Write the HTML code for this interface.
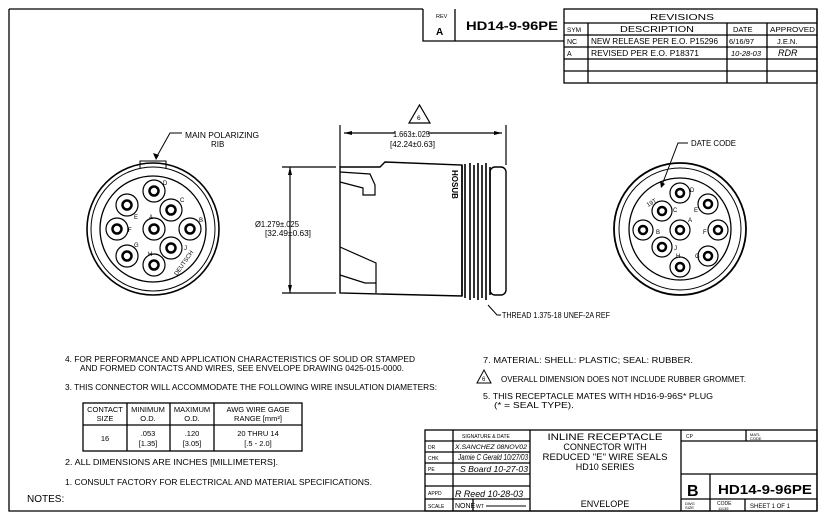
<!DOCTYPE html>
<html><head><meta charset="utf-8"><style>
html,body{margin:0;padding:0;background:#fff;}
svg{display:block}
text{font-family:"Liberation Sans",sans-serif;fill:#000;}
.m{font-size:8px;}
</style></head><body>
<svg width="822" height="523" viewBox="0 0 822 523" xmlns="http://www.w3.org/2000/svg">
<g fill="none" stroke="#000" stroke-width="1.3">
<path d="M9,9 H423 M9,9 V511 H817 V9"/>
<path d="M423,9 V41 H564 M455,9 V41"/>
<rect x="564" y="9" width="253" height="74"/>
<path d="M564,23 H817 M564,35 H817 M564,47 H817 M564,59 H817 M564,71 H817 M588,23 V83 M727,23 V83 M767,23 V83"/>
<rect x="425" y="430" width="392" height="81"/>
<path d="M425,441 H530 M425,452 H530 M425,463 H530 M425,474 H530 M425,486 H530 M425,499 H530 M453,430 V511 M530,430 V511 M681,430 V511 M681,441 H817 M746,430 V441 M681,474 H817 M681,499 H817 M710,474 V511 M745,499 V511 M473,499 V511"/>
<rect x="83" y="403" width="219" height="48"/>
<path d="M83,425 H302 M127,403 V451 M170,403 V451 M214,403 V451"/>
</g>
<text x="436" y="18" font-size="5.5">REV</text>
<text x="436" y="35" font-size="10" font-weight="bold">A</text>
<text x="466" y="30" font-size="12" font-weight="bold" textLength="92" lengthAdjust="spacingAndGlyphs">HD14-9-96PE</text>
<g class="m">
<text x="650" y="20" textLength="64" lengthAdjust="spacingAndGlyphs">REVISIONS</text>
<text x="567" y="32" font-size="6.5">SYM</text>
<text x="620" y="32" textLength="74" lengthAdjust="spacingAndGlyphs">DESCRIPTION</text>
<text x="733" y="32" font-size="7.5">DATE</text>
<text x="770" y="32" font-size="7.5" textLength="45" lengthAdjust="spacingAndGlyphs">APPROVED</text>
<text x="567" y="44" font-size="7">NC</text>
<text x="591" y="44" textLength="127" lengthAdjust="spacingAndGlyphs">NEW RELEASE PER E.O. P15296</text>
<text x="729" y="44" font-size="7.5">6/16/97</text>
<text x="777" y="44" font-size="7.5">J.E.N.</text>
<text x="567" y="56" font-size="7">A</text>
<text x="591" y="56" textLength="108" lengthAdjust="spacingAndGlyphs">REVISED PER E.O. P18371</text>
<text x="731" y="56" font-size="7.5" font-style="italic">10-28-03</text>
<text x="778" y="56" font-size="9" font-style="italic">RDR</text>
</g>
<g fill="none" stroke="#000">
<circle cx="153" cy="229" r="66" stroke-width="1.6"/>
<circle cx="153" cy="229" r="62" stroke-width="1"/>
<circle cx="153" cy="229" r="53" stroke-width="1.3"/>
<path d="M140,169 L140,161 H166 V169" stroke-width="1"/>
<path d="M182,133 H170 L156,158" stroke-width="1"/>
</g>
<path d="M156,160 L153,153 L159,155 Z"/>
<g fill="none" stroke="#000" stroke-width="1.2">
<circle cx="154" cy="191" r="11"/><circle cx="171" cy="210" r="11"/><circle cx="190" cy="229" r="11"/>
<circle cx="171" cy="248" r="11"/><circle cx="154" cy="265" r="11"/><circle cx="127" cy="256" r="11"/>
<circle cx="117" cy="229" r="11"/><circle cx="127" cy="205" r="11"/><circle cx="154" cy="229" r="11"/>
</g>
<g fill="none" stroke="#000" stroke-width="2.5">
<circle cx="154" cy="191" r="4.5"/><circle cx="171" cy="210" r="4.5"/><circle cx="190" cy="229" r="4.5"/>
<circle cx="171" cy="248" r="4.5"/><circle cx="154" cy="265" r="4.5"/><circle cx="127" cy="256" r="4.5"/>
<circle cx="117" cy="229" r="4.5"/><circle cx="127" cy="205" r="4.5"/><circle cx="154" cy="229" r="4.5"/>
</g>
<g font-size="6">
<text x="163" y="185">D</text><text x="180" y="202">C</text><text x="199" y="222">B</text>
<text x="184" y="250">J</text><text x="148" y="256">H</text><text x="134" y="247">G</text>
<text x="128" y="232">F</text><text x="134" y="219">E</text><text x="149" y="219">A</text>
<text x="177" y="276" transform="rotate(-55 177 276)">DEUTSCH</text>
<text x="185" y="138" class="m" textLength="74" lengthAdjust="spacingAndGlyphs">MAIN POLARIZING</text>
<text x="211" y="147" class="m">RIB</text>
</g>
<g fill="none" stroke="#000" stroke-width="1.2">
<path d="M340,125 V167 M506,125 V165"/>
<path d="M344,133 H395 M428,133 H502"/>
<path d="M290,167 V293 M282,167 H336 M282,293 H336"/>
<path d="M340,167 H380 L385,162 L462,165 V296 L340,293 Z" stroke-width="1.4"/>
<path d="M340,172 L370,174 L375,185 V195 H363 V188 L340,182"/>
<path d="M340,247 L376,263 V293 M340,275 L365,283 H376"/>
<rect x="490" y="167" width="16" height="128" rx="5" stroke-width="1.4"/>
<path d="M462,165 V296 M465,164 V298 M470,163 V300 M474,165 V298 M478,163 V300 M482,165 V298 M486,163 V300 M490,167 V295" stroke-width="1.6"/>
<path d="M488,305 L497,315 H501" stroke-width="1"/>
</g>
<path d="M344,133 L352,131 V135 Z M502,133 L494,131 V135 Z M290,167 L288,175 H292 Z M290,293 L288,285 H292 Z"/>
<path d="M409,123 L419.5,105 L430,123 Z" fill="none" stroke="#000" stroke-width="1.2"/>
<text x="417" y="120" font-size="6.5">6</text>
<text x="452" y="170" font-size="8" font-weight="bold" transform="rotate(90 452 170)">HOSUB</text>
<g class="m">
<text x="393" y="137" textLength="37" lengthAdjust="spacingAndGlyphs">1.663±.025</text>
<text x="390" y="147" textLength="45" lengthAdjust="spacingAndGlyphs">[42.24±0.63]</text>
<text x="255" y="227" textLength="44" lengthAdjust="spacingAndGlyphs">Ø1.279±.025</text>
<text x="265" y="236" textLength="46" lengthAdjust="spacingAndGlyphs">[32.49±0.63]</text>
<text x="502" y="318" textLength="108" lengthAdjust="spacingAndGlyphs">THREAD 1.375-18 UNEF-2A REF</text>
<text x="691" y="146" textLength="45" lengthAdjust="spacingAndGlyphs">DATE CODE</text>
</g>
<g fill="none" stroke="#000">
<circle cx="680" cy="229" r="66" stroke-width="1.8"/>
<circle cx="680" cy="229" r="61" stroke-width="1"/>
<circle cx="680" cy="229" r="51" stroke-width="1.3"/>
<path d="M688,143 H678 L662,185" stroke-width="1"/>
<g stroke-width="1.2">
<circle cx="680" cy="193" r="10"/><circle cx="708" cy="204" r="10"/><circle cx="718" cy="230" r="10"/>
<circle cx="708" cy="256" r="10"/><circle cx="680" cy="267" r="10"/><circle cx="662" cy="247" r="10"/>
<circle cx="643" cy="230" r="10"/><circle cx="662" cy="211" r="10"/><circle cx="680" cy="230" r="10"/>
</g>
<g stroke-width="2.5">
<circle cx="680" cy="193" r="4"/><circle cx="708" cy="204" r="4"/><circle cx="718" cy="230" r="4"/>
<circle cx="708" cy="256" r="4"/><circle cx="680" cy="267" r="4"/><circle cx="662" cy="247" r="4"/>
<circle cx="643" cy="230" r="4"/><circle cx="662" cy="211" r="4"/><circle cx="680" cy="230" r="4"/>
</g>
</g>
<path d="M661,188 L660,181 L665,184 Z"/>
<g font-size="6">
<text x="690" y="192">D</text><text x="694" y="212">E</text><text x="703" y="234">F</text>
<text x="695" y="258">G</text><text x="676" y="258">H</text><text x="674" y="250">J</text>
<text x="656" y="234">B</text><text x="673" y="212">C</text><text x="688" y="222">A</text>
<text x="648" y="207" transform="rotate(-30 648 207)">19T</text>
</g>
<g class="m">
<text x="65" y="362" textLength="350" lengthAdjust="spacingAndGlyphs">4. FOR PERFORMANCE AND APPLICATION CHARACTERISTICS OF SOLID OR STAMPED</text>
<text x="80" y="371" textLength="324" lengthAdjust="spacingAndGlyphs">AND FORMED CONTACTS AND WIRES, SEE ENVELOPE DRAWING 0425-015-0000.</text>
<text x="65" y="390" textLength="372" lengthAdjust="spacingAndGlyphs">3. THIS CONNECTOR WILL ACCOMMODATE THE FOLLOWING WIRE INSULATION DIAMETERS:</text>
<text x="65" y="465" textLength="213" lengthAdjust="spacingAndGlyphs">2. ALL DIMENSIONS ARE INCHES [MILLIMETERS].</text>
<text x="65" y="485" textLength="307" lengthAdjust="spacingAndGlyphs">1. CONSULT FACTORY FOR ELECTRICAL AND MATERIAL SPECIFICATIONS.</text>
<text x="27" y="502" font-size="10">NOTES:</text>
<text x="483" y="363" textLength="210" lengthAdjust="spacingAndGlyphs">7. MATERIAL: SHELL: PLASTIC; SEAL: RUBBER.</text>
<text x="501" y="382" textLength="245" lengthAdjust="spacingAndGlyphs">OVERALL DIMENSION DOES NOT INCLUDE RUBBER GROMMET.</text>
<text x="483" y="399" textLength="230" lengthAdjust="spacingAndGlyphs">5. THIS RECEPTACLE MATES WITH HD16-9-96S* PLUG</text>
<text x="494" y="408" textLength="80" lengthAdjust="spacingAndGlyphs">(* = SEAL TYPE).</text>
</g>
<path d="M477,383 L484,370 L491,383 Z" fill="none" stroke="#000" stroke-width="1"/>
<text x="482" y="381" font-size="6">6</text>
<g font-size="7.5" text-anchor="middle">
<text x="105" y="412">CONTACT</text><text x="105" y="421">SIZE</text>
<text x="148" y="412">MINIMUM</text><text x="148" y="421">O.D.</text>
<text x="192" y="412">MAXIMUM</text><text x="192" y="421">O.D.</text>
<text x="258" y="412">AWG WIRE GAGE</text><text x="258" y="421">RANGE [mm²]</text>
<text x="105" y="441">16</text>
<text x="148" y="436">.053</text><text x="148" y="446">[1.35]</text>
<text x="192" y="436">.120</text><text x="192" y="446">[3.05]</text>
<text x="258" y="436">20 THRU 14</text><text x="258" y="446">[.5 - 2.0]</text>
</g>
<g font-size="5">
<text x="462" y="438">SIGNATURE &amp; DATE</text>
<text x="428" y="449">DR</text><text x="428" y="460">CHK</text><text x="428" y="471">PE</text>
<text x="428" y="495">APPD</text><text x="428" y="508">SCALE</text>
<text x="476" y="508">WT</text>
<text x="686" y="438">CP</text><text x="750" y="436" font-size="4">MATL</text><text x="750" y="440" font-size="4">CODE</text>
<text x="685" y="505" font-size="4">DWG</text><text x="685" y="509" font-size="4">SIZE</text>
<text x="717" y="505">CODE</text><text x="718" y="510" font-size="4">11139</text>
<text x="750" y="508" font-size="6">SHEET  1 OF  1</text>
</g>
<text x="455" y="449" font-size="6.5" font-style="italic" textLength="72" lengthAdjust="spacingAndGlyphs">X.SANCHEZ 08NOV02</text>
<text x="458" y="460" font-size="8" font-style="italic" textLength="70" lengthAdjust="spacingAndGlyphs">Jamie C Gerald 10/27/03</text>
<text x="460" y="472" font-size="8" font-style="italic" textLength="68" lengthAdjust="spacingAndGlyphs">S Board 10-27-03</text>
<text x="455" y="497" font-size="9" font-style="italic" textLength="68" lengthAdjust="spacingAndGlyphs">R Reed 10-28-03</text>
<text x="455" y="508" font-size="7">NONE</text>
<path d="M486,506 H526" stroke="#000"/>
<g font-size="9" text-anchor="middle">
<text x="605" y="440" textLength="115" lengthAdjust="spacingAndGlyphs">INLINE RECEPTACLE</text>
<text x="605" y="450">CONNECTOR WITH</text>
<text x="605" y="460" textLength="125" lengthAdjust="spacingAndGlyphs">REDUCED "E" WIRE SEALS</text>
<text x="605" y="470">HD10 SERIES</text>
<text x="605" y="507">ENVELOPE</text>
</g>
<text x="687" y="496" font-size="16" font-weight="bold">B</text>
<text x="718" y="494" font-size="13" font-weight="bold" textLength="94" lengthAdjust="spacingAndGlyphs">HD14-9-96PE</text>
</svg>
</body></html>
